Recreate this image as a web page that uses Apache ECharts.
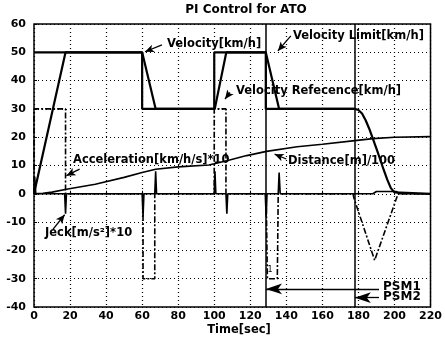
<!DOCTYPE html>
<html>
<head>
<meta charset="utf-8">
<script src="https://cdn.jsdelivr.net/npm/echarts@6/dist/echarts.min.js"></script>
<style>
    html, body { margin: 0; padding: 0; background: #fff; }
    #main { width: 445px; height: 341px; }
</style>
</head>
<body>
<div id="main"></div>
<script>
// 轴刻度
var xTicks = [0, 20, 40, 60, 80, 100, 120, 140, 160, 180, 200, 220];
var yTicks = [-40, -30, -20, -10, 0, 10, 20, 30, 40, 50, 60];

// 速度限制 [t, km/h]
var limitData = [[0, 50], [60, 50], [60, 30], [100, 30], [100, 50], [128.6, 50], [128.6, 30], [178, 30]];
// 实际速度
var velocityData = [[0, 0], [1, 0.5], [17.5, 50], [60, 50], [67.5, 30], [100.3, 30], [106.7, 50],
    [128.6, 50], [136, 30], [178, 30], [180, 29.6], [182, 28.4], [184, 26], [186, 23], [188, 19.5],
    [190, 16], [192, 12.3], [194, 8.5], [196, 5], [198, 2], [200, 0.5], [201, 0], [220, 0]];
// 加速度*10
var accelData = [[0, 0], [0, 30], [17.5, 30], [17.5, 0], [60.5, 0], [60.5, -30], [67, -30], [67, 0],
    [100, 0], [100, 30], [106.5, 30], [106.5, 0], [128.8, 0], [129.5, -30], [135, -30], [135.5, 0],
    [177, 0], [177.5, -1.5], [189, -23.5], [202, 0], [220, 0]];
// 加加速度*10
var jerkData = [[0, 0], [0.4, 6], [1, 0], [17, 0], [17.5, -7], [18, 0], [60, 0], [60.5, -8], [61, 0],
    [67, 0], [67.5, 8], [68, 0], [100, 0], [100.4, 8], [100.9, 0], [106.5, 0], [107, -7], [107.5, 0],
    [128.3, 0], [128.8, -8], [129.3, 0], [135.5, 0], [136, 7.5], [136.6, 0], [188, 0], [190, 0.8],
    [201, 0.8], [203, 0], [220, 0]];
// 距离/100
var distData = [[0, 0], [5, 0.2], [10, 0.6], [18, 1.6], [34, 3.4], [50, 5.8], [60, 7.5], [67.5, 8.7],
    [80, 9.5], [97, 10.2], [100, 10.6], [107, 11.7], [118, 13.5], [129, 15], [146, 16.6], [160, 17.5],
    [178, 18.8], [188, 19.5], [200, 20], [220, 20.2]];
// PSM 竖线
var psmLines = [128.6, 178];

(function () {
    var myChart = echarts.init(document.getElementById('main'));
    var fontAnno = 'bold 11.5px "DejaVu Sans", sans-serif';

    function arrow(from, to, size) {
        return [
            { coord: from, symbol: 'none' },
            { coord: to, symbol: 'arrow', symbolSize: size || [6, 9] }
        ];
    }

    function txt(x, y, s, font, align) {
        return {
            type: 'text', x: x, y: y, z: 100,
            style: { text: s, font: font || fontAnno, fill: '#000', align: align || 'left', verticalAlign: 'middle' }
        };
    }

    var option = {
        animation: false,
        backgroundColor: '#fff',
        grid: {
            left: 34, right: 10, top: 24, bottom: 34,
            show: true, borderColor: '#000', borderWidth: 1.5
        },
        xAxis: {
            type: 'value',
            min: xTicks[0], max: xTicks[xTicks.length - 1], interval: 20,
            axisLine: { show: false },
            axisTick: { show: true, inside: true, length: 3, lineStyle: { color: '#000' } },
            axisLabel: { color: '#000', fontWeight: 'bold', fontSize: 11, fontFamily: 'DejaVu Sans', margin: 4 },
            splitLine: { show: true, lineStyle: { color: '#000', type: [1, 3], width: 1.2 } }
        },
        yAxis: {
            type: 'value',
            min: yTicks[0], max: yTicks[yTicks.length - 1], interval: 10,
            axisLine: { show: false },
            axisTick: { show: true, inside: true, length: 3, lineStyle: { color: '#000' } },
            axisLabel: { color: '#000', fontWeight: 'bold', fontSize: 11, fontFamily: 'DejaVu Sans', margin: 8 },
            splitLine: { show: true, lineStyle: { color: '#000', type: [1, 3], width: 1.2 } }
        },
        series: [
            {
                name: 'Velocity Limit', type: 'line', showSymbol: false, data: limitData,
                lineStyle: { color: '#000', width: 2.2 },
                markLine: {
                    silent: true, symbol: 'none', label: { show: false },
                    lineStyle: { color: '#000', width: 1.5, type: 'solid' },
                    data: psmLines.map(function (v) { return { xAxis: v }; })
                }
            },
            {
                name: 'Velocity', type: 'line', showSymbol: false, data: velocityData,
                lineStyle: { color: '#000', width: 2.2 }
            },
            {
                name: 'Acceleration', type: 'line', showSymbol: false, data: accelData,
                lineStyle: { color: '#000', width: 1.6, type: [6, 2, 2, 2] }
            },
            {
                name: 'Jeck', type: 'line', showSymbol: false, data: jerkData,
                lineStyle: { color: '#000', width: 1.6 }
            },
            {
                name: 'Distance', type: 'line', showSymbol: false, data: distData,
                lineStyle: { color: '#000', width: 1.6 },
                // 注释箭头
                markLine: {
                    silent: true, label: { show: false },
                    lineStyle: { color: '#000', width: 1.3, type: 'solid' },
                    data: [
                        arrow([71, 52.6], [61.6, 50.2]),
                        arrow([142.5, 55.8], [135.3, 50.5]),
                        arrow([108.7, 35.8], [106, 33.5]),
                        arrow([25.3, 8.7], [18, 6.4]),
                        arrow([140, 12.3], [133.5, 14]),
                        arrow([10.6, -12.5], [17, -7.4]),
                        arrow([191.4, -33.6], [128.7, -33.6], [8, 16]),
                        arrow([191.4, -36.7], [178, -36.7], [8, 16])
                    ]
                }
            }
        ],
        graphic: [
            txt(246, 10, 'PI Control for ATO', 'bold 12px "DejaVu Sans", sans-serif', 'center'),
            txt(239, 330, 'Time[sec]', fontAnno, 'center'),
            txt(167, 44, 'Velocity[km/h]'),
            txt(293, 36, 'Velocity Limit[km/h]'),
            txt(236, 91, 'Velocity Refecence[km/h]'),
            txt(73, 160, 'Acceleration[km/h/s]*10'),
            txt(288, 161, 'Distance[m]/100'),
            txt(45, 233, 'Jeck[m/s²]*10'),
            txt(383, 287, 'PSM1', 'bold 12px "DejaVu Sans", sans-serif'),
            txt(383, 297, 'PSM2', 'bold 12px "DejaVu Sans", sans-serif'),
            txt(270, 270, '1', '8px "DejaVu Sans", sans-serif', 'center')
        ]
    };
    myChart.setOption(option);
    window.addEventListener('resize', function () {
        myChart.resize();
    });
})();
</script>
</body>
</html>
